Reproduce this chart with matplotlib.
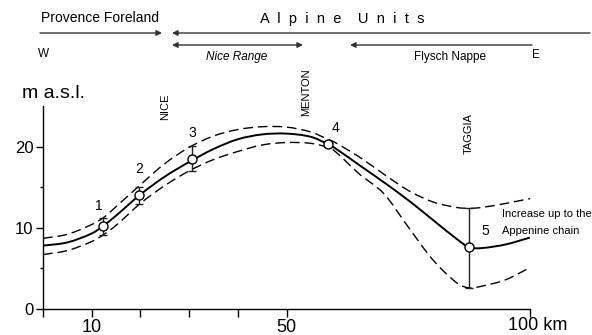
import matplotlib
matplotlib.use("Agg")
import matplotlib.pyplot as plt
from matplotlib.path import Path
from matplotlib.patches import PathPatch, FancyArrowPatch

plt.rcParams['font.family'] = ['Liberation Sans', 'DejaVu Sans']

# distance along the profile (km)
km = [0, 5, 10, 12.3, 15, 20, 25, 30, 35, 40, 45, 50, 55, 58.5, 60, 65, 70, 75, 80, 85, 87.5, 90, 95, 100]
# best fit curve and upper / lower envelope (m a.s.l.)
fit = [7.8, 8.2, 9.3, 10.2, 11.5, 14.1, 16.3, 18.1, 19.7, 20.9, 21.5, 21.6, 21.2, 20.3, 19.8, 17.7,
       15.6, 13.4, 11.0, 8.6, 7.6, 7.5, 7.95, 8.8]
upper = [8.7, 9.2, 10.4, 11.2, 12.6, 15.3, 17.9, 19.9, 21.3, 22.1, 22.45, 22.4, 21.8, 20.9, 20.5, 18.7,
         16.6, 14.6, 13.2, 12.5, 12.4, 12.5, 13.0, 13.6]
lower = [6.7, 7.2, 8.3, 9.1, 10.3, 13.0, 15.2, 17.0, 18.4, 19.4, 20.2, 20.5, 20.4, 19.9, 19.4, 16.6,
         14.2, 10.1, 6.1, 3.2, 2.6, 2.8, 3.6, 5.1]

# measured sites
site_id = ['1', '2', '3', '4', '5']
site_km = [12.3, 19.7, 30.5, 58.5, 87.5]
site_z = [10.2, 14.0, 18.5, 20.3, 7.6]
site_top = [11.2, 15.0, 20.1, 20.6, 12.4]
site_bot = [9.1, 12.9, 17.0, 20.0, 2.6]

W, H = 592, 335


def fx(px):
    return px / W


def fy(py):
    return 1 - py / H


def smooth_path(xs, ys):
    # draw the read points as one smooth curve (cubic bezier segments through every point)
    n = len(xs)
    m = []
    for i in range(n):
        a, b = max(i - 1, 0), min(i + 1, n - 1)
        m.append((ys[b] - ys[a]) / (xs[b] - xs[a]))
    verts = [(xs[0], ys[0])]
    codes = [Path.MOVETO]
    for i in range(n - 1):
        d = (xs[i + 1] - xs[i]) / 3
        verts += [(xs[i] + d, ys[i] + m[i] * d), (xs[i + 1] - d, ys[i + 1] - m[i + 1] * d), (xs[i + 1], ys[i + 1])]
        codes += [Path.CURVE4] * 3
    return Path(verts, codes)


fig = plt.figure(figsize=(W / 100, H / 100), dpi=100)
ax = fig.add_axes([fx(43), fy(309), (530 - 43) / W, (309 - 106) / H])

ax.add_patch(PathPatch(smooth_path(km, fit), fill=False, ec='k', lw=1.4, zorder=3))
for env in [upper, lower]:
    ax.add_patch(PathPatch(smooth_path(km, env), fill=False, ec='k', lw=1.0, linestyle=(0, (7, 3.5))))

yerr = [[z - b for z, b in zip(site_z, site_bot)], [t - z for z, t in zip(site_z, site_top)]]
ax.errorbar(site_km, site_z, yerr=yerr, fmt='o', ms=6.5, mfc='white', mec='k', mew=1.0,
            ecolor='#222222', elinewidth=1.0, capsize=3, capthick=1.0, zorder=4)

# site numbers (pixel positions of the labels)
num_pos = [(99, 206), (139, 169), (192, 133), (336, 128), (485, 231)]
for s, (px, py) in zip(site_id, num_pos):
    fig.text(fx(px), fy(py), s, fontsize=10, ha='center', va='center')

ax.set_xlim(0, 100)
ax.set_ylim(0, 25)
for side in ['top', 'right']:
    ax.spines[side].set_visible(False)
for side in ['left', 'bottom']:
    ax.spines[side].set_linewidth(1.0)

ax.set_xticks([0, 10, 20, 30, 40, 50, 100])
ax.set_xticklabels(['', '10', '', '', '', '50', ''], fontsize=13)
ax.set_yticks([0, 10, 20])
ax.set_yticks([5, 15], minor=True)
ax.tick_params(axis='y', which='major', length=5, width=1.0, labelsize=12, pad=2)
ax.tick_params(axis='y', which='minor', length=2, width=1.0)
ax.tick_params(axis='x', which='major', length=5.5, width=1.0, pad=2)
fig.text(fx(508), fy(326), '100 km', fontsize=13, ha='left', va='center')

fig.text(fx(22), fy(93), 'm a.s.l.', fontsize=14, ha='left', va='center')

# place names
for name, px, py in [('NICE', 165, 107), ('MENTON', 306, 92), ('TAGGIA', 469, 134)]:
    fig.text(fx(px), fy(py), name, fontsize=8, rotation=90, ha='center', va='center')

fig.text(fx(502), fy(214), 'Increase up to the', fontsize=8, ha='left', va='center')
fig.text(fx(502), fy(231), 'Appenine chain', fontsize=8, ha='left', va='center')

# structural units on top
fig.text(fx(100), fy(18), 'Provence Foreland', fontsize=10, ha='center', va='center')
fig.text(fx(342), fy(19), 'A  l  p  i  n  e    U  n  i  t  s', fontsize=10.5, ha='center', va='center')
fig.text(fx(44), fy(54), 'W', fontsize=8.5, ha='center', va='center')
fig.text(fx(536), fy(55), 'E', fontsize=8.5, ha='center', va='center')
fig.text(fx(237), fy(57), 'Nice Range', fontsize=8.5, style='italic', ha='center', va='center')
fig.text(fx(450), fy(57), 'Flysch Nappe', fontsize=8.5, ha='center', va='center')

arr = dict(arrowstyle='-|>', color='#333333', lw=1.0, mutation_scale=8, shrinkA=0, shrinkB=0,
           transform=fig.transFigure)
arr2 = dict(arr, arrowstyle='<|-|>')
fig.add_artist(FancyArrowPatch((fx(40), fy(33)), (fx(162), fy(33)), **arr))
fig.add_artist(FancyArrowPatch((fx(590), fy(33)), (fx(172), fy(33)), **arr))
fig.add_artist(FancyArrowPatch((fx(172), fy(45)), (fx(303), fy(45)), **arr2))
fig.add_artist(FancyArrowPatch((fx(532), fy(45)), (fx(350), fy(45)), **arr))

fig.savefig('out.png', dpi=100)
